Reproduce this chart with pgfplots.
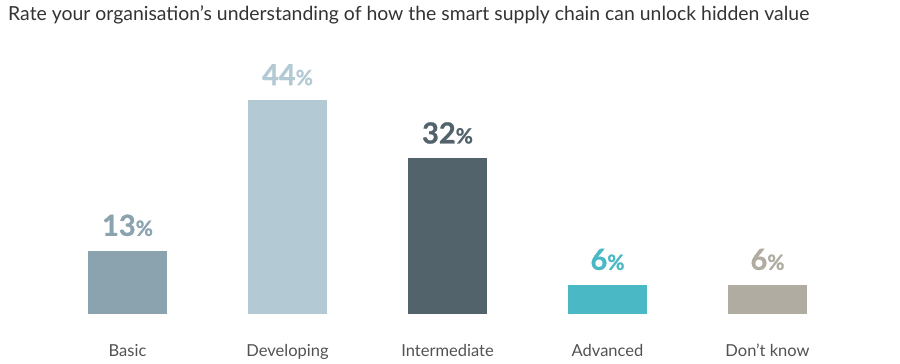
\documentclass[border=0pt]{standalone}
\usepackage{pgfplots}
\pgfplotsset{compat=1.18}
\usepackage{fontspec}
\setmainfont{Lato}
\newfontfamily\heavyfont[BoldFeatures={FakeBold=0.9}]{Lato}
\definecolor{cBasic}{HTML}{8BA3AF}
\definecolor{cDev}{HTML}{B3CAD5}
\definecolor{cInt}{HTML}{52636B}
\definecolor{cAdv}{HTML}{4BB8C6}
\definecolor{cDK}{HTML}{B0ACA2}
\definecolor{txt}{HTML}{333333}
\newcommand{\valfmt}[1]{{\heavyfont\fontsize{29}{29}\selectfont\bfseries\pgfmathprintnumber[assume math mode=true]{#1}{\fontsize{21}{21}\selectfont\%}}}
\begin{document}
\begin{tikzpicture}
\path[use as bounding box] (0,-50pt) rectangle (900pt,314pt);
\begin{axis}[
  at={(0,0)}, anchor=south west,
  scale only axis, width=900pt, height=314pt,
  xmin=-0.797, xmax=4.828, ymin=0, ymax=64.6,
  axis line style={draw=none}, tick style={draw=none},
  ytick=\empty,
  xtick={0,1,2,3,4},
  xticklabels={Basic,Developing,Intermediate,Advanced,Don't know},
  xticklabel style={anchor=base, yshift=-42pt+\pgfkeysvalueof{/pgfplots/major tick length}, font=\fontsize{16.5}{16.5}\selectfont, text=txt!85},
  ybar, bar width=79pt, bar shift=0pt,
  nodes near coords={\valfmt{\pgfplotspointmeta}},
  nodes near coords style={anchor=base, yshift=15pt, inner sep=0pt},
  clip=false,
]
\addplot[fill=cBasic, draw=none, nodes near coords style={text=cBasic}] coordinates {(0,13)};
\addplot[fill=cDev, draw=none, nodes near coords style={text=cDev}] coordinates {(1,44)};
\addplot[fill=cInt, draw=none, nodes near coords style={text=cInt}] coordinates {(2,32)};
\addplot[fill=cAdv, draw=none, nodes near coords style={text=cAdv}] coordinates {(3,6)};
\addplot[fill=cDK, draw=none, nodes near coords style={text=cDK}] coordinates {(4,6)};
\end{axis}
\node[anchor=base west, inner sep=0pt, text=txt, font=\fontsize{19.4}{19.4}\selectfont] at (8pt,314pt-21pt) {Rate your organisation’s understanding of how the smart supply chain can unlock hidden value};
\end{tikzpicture}
\end{document}
